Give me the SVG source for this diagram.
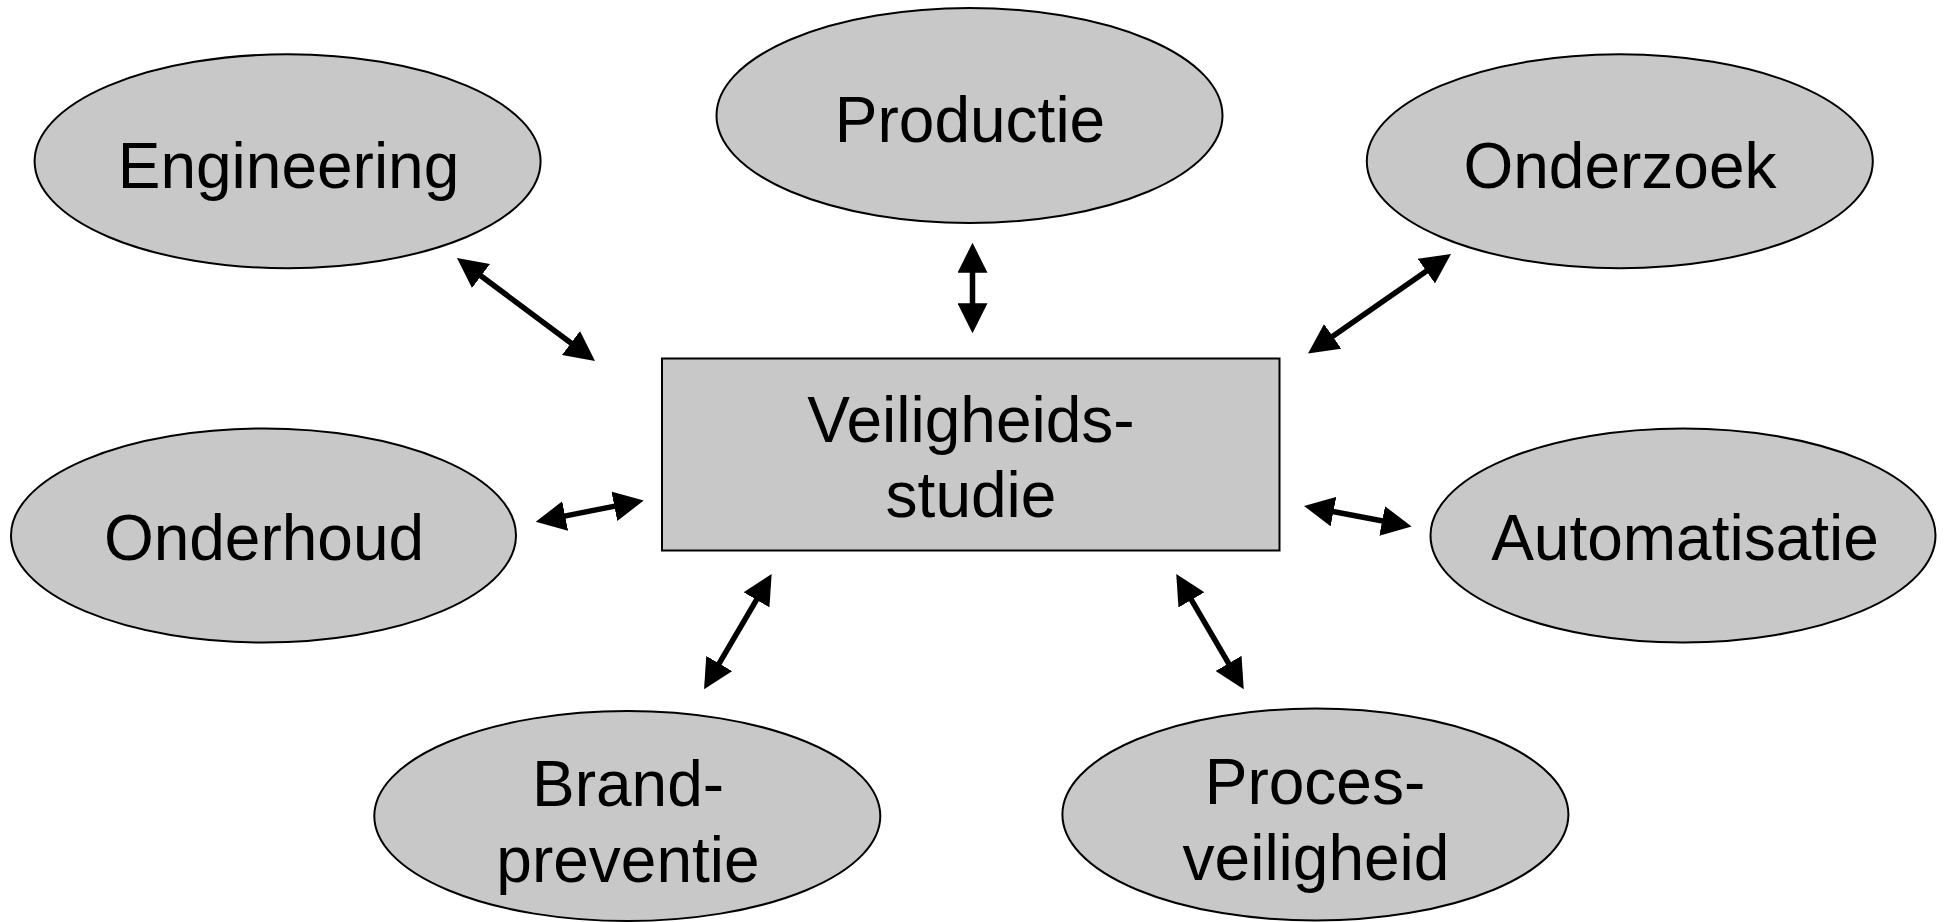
<svg xmlns="http://www.w3.org/2000/svg" width="1944" height="922" viewBox="0 0 1944 922">
  <defs>
    <style>
      .node { fill: #c8c8c8; stroke: #000; stroke-width: 2; }
      .label { font-family: "Liberation Sans", Arial, sans-serif; font-size: 64px; fill: #000; text-anchor: middle; }
      .link { stroke: #000; stroke-width: 5.5; fill: none; marker-start: url(#head); marker-end: url(#head); }
    </style>
    <marker id="head" viewBox="0 0 30 30" refX="2" refY="15" markerWidth="30" markerHeight="30" markerUnits="userSpaceOnUse" orient="auto-start-reverse">
      <path d="M0,0 L30,15 L0,30 z" fill="#000"/>
    </marker>
  </defs>
  <rect width="1944" height="922" fill="#fff"/>

  <!-- two-way links between the study and its disciplines -->
  <g id="connectors">
    <line class="link" x1="972.5" y1="270.7" x2="972.5" y2="305.3"/>
    <line class="link" x1="479.4" y1="274.7" x2="572.6" y2="344.3"/>
    <line class="link" x1="1428" y1="270" x2="1331" y2="337.5"/>
    <line class="link" x1="563.2" y1="516.4" x2="616.3" y2="505.9"/>
    <line class="link" x1="1331.5" y1="511.2" x2="1384.1" y2="521.3"/>
    <line class="link" x1="757.5" y1="598.1" x2="718.2" y2="665.2"/>
    <line class="link" x1="1190.4" y1="598.2" x2="1229.6" y2="665.1"/>
  </g>

  <g id="veiligheidsstudie">
    <rect class="node" x="662" y="358.5" width="617.5" height="192"/>
    <text class="label" x="971" y="441.7">Veiligheids-</text>
    <text class="label" x="971" y="516.7">studie</text>
  </g>

  <g id="engineering">
    <ellipse class="node" cx="287.6" cy="161.3" rx="253" ry="107"/>
    <text class="label" x="288.5" y="188.3">Engineering</text>
  </g>

  <g id="productie">
    <ellipse class="node" cx="969.5" cy="115.5" rx="253" ry="107.5"/>
    <text class="label" x="970" y="141.7">Productie</text>
  </g>

  <g id="onderzoek">
    <ellipse class="node" cx="1619.8" cy="161.3" rx="253" ry="107"/>
    <text class="label" x="1620" y="188.3">Onderzoek</text>
  </g>

  <g id="onderhoud">
    <ellipse class="node" cx="263.5" cy="535.5" rx="252.5" ry="107"/>
    <text class="label" x="264" y="560">Onderhoud</text>
  </g>

  <g id="automatisatie">
    <ellipse class="node" cx="1683" cy="535.5" rx="252.5" ry="107"/>
    <text class="label" x="1685" y="560">Automatisatie</text>
  </g>

  <g id="brandpreventie">
    <ellipse class="node" cx="627.3" cy="816" rx="253" ry="105"/>
    <text class="label" x="628" y="806">Brand-</text>
    <text class="label" x="628" y="881.5">preventie</text>
  </g>

  <g id="procesveiligheid">
    <ellipse class="node" cx="1315.4" cy="814.5" rx="253" ry="106"/>
    <text class="label" x="1315" y="804.3">Proces-</text>
    <text class="label" x="1316" y="880">veiligheid</text>
  </g>
</svg>
